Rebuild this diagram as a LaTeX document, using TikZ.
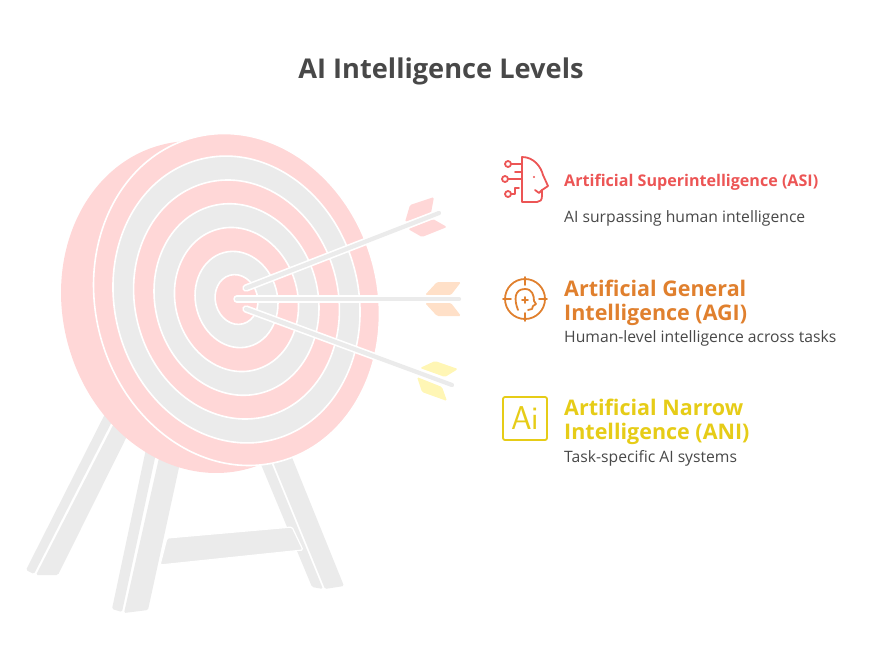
\documentclass[tikz,border=0pt]{standalone}
\usepackage{fontspec}
\setmainfont{Open Sans}
\usepackage{xcolor}
\usepackage{tikz}

\definecolor{ringpink}{HTML}{FFD7D7}
\definecolor{ringgray}{HTML}{EBEBEB}
\definecolor{textgray}{HTML}{484848}
\definecolor{asired}{HTML}{EC5555}
\definecolor{agiorange}{HTML}{E0802E}
\definecolor{aniyellow}{HTML}{E6CC17}
\definecolor{vaneorange}{HTML}{FFE0C8}
\definecolor{vaneyellow}{HTML}{FFF6B5}

\tikzset{
	leg/.style={fill=ringgray, rounded corners=1.5pt},
	vane/.style={rounded corners=1.5pt},
	shaftback/.style={white, line width=7.5pt, line cap=round},
	shaft/.style={ringgray, line width=4.2pt, line cap=round},
	icon/.style={line width=1.8pt, line join=round, line cap=round},
	heading/.style={right, inner sep=0pt, align=left, font=\bfseries},
	detail/.style={right, inner sep=0pt, text=textgray, font=\fontsize{15.7}{18}\selectfont}
}

\begin{document}
\begin{tikzpicture}[x=1pt, y=-1pt]
	\useasboundingbox (0, 0) rectangle (874, 664);

	%Title
	\node[text=textgray, font=\fontsize{27.2}{32}\selectfont\bfseries] (title) at (441, 71) {AI Intelligence Levels};

	%Legs
	\fill[leg] (113, 398) -- (26, 570) -- (34, 574) -- (124, 398) -- cycle;
	\fill[leg] (126, 400) -- (36, 575) -- (58, 575) -- (145, 400) -- cycle;
	\fill[leg] (150, 430) -- (112, 609) -- (122, 612) -- (161, 430) -- cycle;
	\fill[leg] (163, 440) -- (124, 613) -- (148, 610) -- (185, 440) -- cycle;
	\fill[leg] (255, 450) -- (312, 587) -- (323, 589) -- (266, 450) -- cycle;
	\fill[leg] (266, 445) -- (325, 589) -- (344, 586) -- (287, 445) -- cycle;

	%Crossbar
	\filldraw[leg, draw=white, line width=1.2pt] (167, 538) -- (292, 527) -- (303, 550) -- (160, 565) -- cycle;

	%Target
	\fill[ringpink, rotate around={15:(204, 307)}] (204, 307) ellipse [x radius=141, y radius=167.6];
	\begin{scope}[shift={(236.5, 299.5)}, rotate=15]
		\foreach \k/\col in {1/ringpink, .864/ringgray, .72/ringpink, .577/ringgray, .434/ringpink, .29/ringgray, .15/ringpink}
			\filldraw[fill=\col, draw=white, line width=1.6pt] (0, 0) ellipse [x radius=\k*141, y radius=\k*167.6];
	\end{scope}

	%Vanes
	\fill[ringpink, vane] (410, 205) -- (434, 197) -- (431, 213) -- (405, 222) -- cycle;
	\fill[ringpink, vane] (408, 229) -- (433, 219) -- (447, 227) -- (422, 237) -- cycle;
	\fill[vaneorange, vane] (437, 282) -- (461, 282) -- (451, 295) -- (425, 295) -- cycle;
	\fill[vaneorange, vane] (425, 303) -- (451, 303) -- (461, 316) -- (437, 316) -- cycle;
	\fill[vaneyellow, vane] (420, 368) -- (435, 361) -- (458, 369) -- (445, 377) -- cycle;
	\fill[vaneyellow, vane] (417, 377) -- (442, 387) -- (447, 401) -- (422, 392) -- cycle;

	%Arrows
	\foreach \sx/\sy/\ex/\ey in {246/288/439/213, 237/299/459/299, 246/309/452/385} {
		\draw[shaftback] (\sx, \sy) -- (\ex, \ey);
		\draw[shaft] (\sx, \sy) -- (\ex, \ey);
	}

	%Icon ASI
	\begin{scope}[asired, icon]
		\draw (522, 157) .. controls (534, 157) and (541, 167) .. (543, 175) -- (548, 186) -- (542, 190) -- (542, 196) .. controls (542, 200) and (540, 202) .. (537, 202) -- (522, 202) -- cycle;
		\draw (508, 164) circle (3);
		\draw (505, 179) circle (3);
		\draw (508, 194) circle (3);
		\draw (511, 164) -- (522, 164);
		\draw (515, 172) -- (522, 172);
		\draw (508, 179) -- (522, 179);
		\draw (511, 194) -- (515, 194) -- (515, 188) -- (519, 188);
		\draw (535, 190) -- (539, 193) -- (542, 190);
		\fill (534, 177) circle (1.2);
	\end{scope}

	%Icon AGI
	\begin{scope}[agiorange, icon]
		\draw (525, 299) circle (20);
		\draw (525, 277) -- (525, 285);
		\draw (525, 313) -- (525, 321);
		\draw (503, 299) -- (511, 299);
		\draw (539, 299) -- (547, 299);
		\draw (518, 310) .. controls (514, 300) and (514, 289) .. (525, 289) .. controls (532, 289) and (534, 295) .. (534, 301) -- (536, 304) -- (533, 306) -- (532, 309) -- (528, 310);
		\draw (525, 297) -- (525, 303);
		\draw (522, 300) -- (528, 300);
	\end{scope}

	%Icon ANI
	\draw[aniyellow, line width=1.8pt, rounded corners=2pt] (503, 397) rectangle (547, 440);
	\node[text=aniyellow, font=\sffamily\fontsize{33}{36}\selectfont] (anilogo) at (525, 418) {Ai};

	%Level ASI
	\node[heading, text=asired, font=\fontsize{16.1}{19}\selectfont\bfseries] (asi) at (564, 182) {Artificial Superintelligence (ASI)};
	\node[detail] (asitext) at (564, 218) {AI surpassing human intelligence};

	%Level AGI
	\node[heading, text=agiorange, font=\fontsize{21.5}{24}\selectfont\bfseries] (agi) at (564, 303) {Artificial General\\Intelligence (AGI)};
	\node[detail] (agitext) at (564, 338) {Human-level intelligence across tasks};

	%Level ANI
	\node[heading, text=aniyellow, font=\fontsize{21.5}{24}\selectfont\bfseries] (ani) at (564, 422) {Artificial Narrow\\Intelligence (ANI)};
	\node[detail] (anitext) at (564, 458) {Task-specific AI systems};
\end{tikzpicture}
\end{document}
